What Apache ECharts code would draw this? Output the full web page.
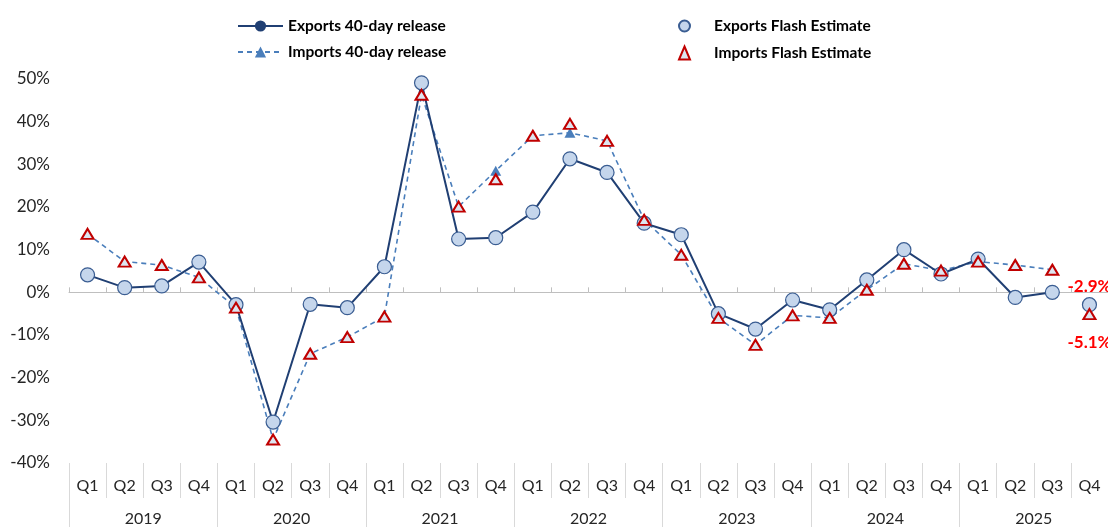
<!DOCTYPE html>
<html>
<head>
<meta charset="utf-8">
<script src="https://cdn.jsdelivr.net/npm/echarts@6/dist/echarts.min.js"></script>
<style>
  html, body { margin: 0; padding: 0; background: #fff; }
  #chart { width: 1108px; height: 527px; }
</style>
</head>
<body>
<div id="chart"></div>
<script>
// quarters on the lower axis, years underneath
const quarters = ['Q1','Q2','Q3','Q4','Q1','Q2','Q3','Q4','Q1','Q2','Q3','Q4','Q1','Q2','Q3','Q4',
                  'Q1','Q2','Q3','Q4','Q1','Q2','Q3','Q4','Q1','Q2','Q3','Q4'];
const years = ['2019','2020','2021','2022','2023','2024','2025'];

// growth rates, %
const exports40 = [4.1, 1.1, 1.5, 7.1, -2.9, -30.4, -2.8, -3.6, 6.0, 49.1, 12.5, 12.8, 18.8, 31.3, 28.1, 16.2,
                   13.5, -5.0, -8.6, -1.8, -4.1, 2.9, 10.0, 4.3, 7.8, -1.2, 0.0, null];
const imports40 = [13.7, 7.2, 6.4, 3.5, -3.6, -34.5, -14.4, -10.5, -5.7, 46.3, 20.1, 28.5, 36.7, 37.4, 35.5, 17.0,
                   8.8, -6.0, -12.3, -5.4, -6.0, 0.6, 6.7, 5.1, 7.2, 6.4, 5.3, null];
const exportsFlash = [4.1, 1.1, 1.5, 7.1, -2.9, -30.4, -2.8, -3.6, 6.0, 49.1, 12.5, 12.8, 18.8, 31.3, 28.1, 16.2,
                      13.5, -5.0, -8.6, -1.8, -4.1, 2.9, 10.0, 4.3, 7.8, -1.2, 0.0, -2.9];
const importsFlash = [13.7, 7.2, 6.4, 3.5, -3.6, -34.5, -14.4, -10.5, -5.7, 46.3, 20.1, 26.5, 36.7, 39.5, 35.5, 17.0,
                      8.8, -6.0, -12.3, -5.4, -6.0, 0.6, 6.7, 5.1, 7.2, 6.4, 5.3, -5.1];

const FONT = 'Lato';
const last = quarters.length - 1;

// only the newest flash value carries a red label
function withLastLabel(arr, position, distance) {
  return arr.map((v, i) => i !== last ? v : {
    value: v,
    label: {
      show: true, position: position, distance: distance,
      formatter: v.toFixed(1) + '%',
      color: '#ff0000', fontWeight: 'bold', fontSize: 17, fontFamily: FONT
    }
  });
}

const chart = echarts.init(document.getElementById('chart'));

const option = {
  animation: false,
  backgroundColor: '#fff',
  textStyle: { fontFamily: FONT },
  legend: [
    {
      data: ['Exports 40-day release', 'Imports 40-day release'],
      orient: 'vertical', left: 232, top: 13, itemGap: 10,
      itemWidth: 45, itemHeight: 14,
      textStyle: { fontSize: 15.5, fontWeight: 'bold', color: '#000', fontFamily: FONT, padding: [0, 0, 0, 0] }
    },
    {
      data: ['Exports Flash Estimate', 'Imports Flash Estimate'],
      orient: 'vertical', left: 673, top: 13, itemGap: 11,
      itemWidth: 11, itemHeight: 13,
      textStyle: { fontSize: 15.5, fontWeight: 'bold', color: '#000', fontFamily: FONT, padding: [0, 0, 0, 19] }
    }
  ],
  grid: { left: 69, right: 0, top: 79, bottom: 63, containLabel: false },
  xAxis: [
    {
      // zero line with small ticks pointing up
      type: 'category', data: quarters, position: 'bottom',
      axisLine: { show: true, onZero: true, lineStyle: { color: '#bfbfbf', width: 1 } },
      axisTick: { show: true, inside: true, length: 5, interval: 0, lineStyle: { color: '#bfbfbf' } },
      axisLabel: { show: false },
      splitLine: { show: false }
    },
    {
      // quarter labels at the bottom
      type: 'category', data: quarters, position: 'bottom',
      axisLine: { show: false, onZero: false },
      axisTick: { show: true, length: 35, interval: 0, lineStyle: { color: '#d9d9d9' } },
      axisLabel: { interval: 0, margin: 15, fontSize: 16, color: '#262626', fontFamily: FONT },
      splitLine: { show: false }
    },
    {
      // year labels
      type: 'category', data: years, position: 'bottom', offset: 35,
      axisLine: { show: false, onZero: false },
      axisTick: { show: true, length: 30, interval: 0, lineStyle: { color: '#d9d9d9' } },
      axisLabel: { interval: 0, margin: 13, fontSize: 16, color: '#262626', fontFamily: FONT },
      splitLine: { show: false }
    }
  ],
  yAxis: {
    type: 'value', min: -40, max: 50, interval: 10,
    axisLine: { show: false },
    axisTick: { show: false },
    splitLine: { show: false },
    axisLabel: { formatter: '{value}%', fontSize: 17, color: '#262626', margin: 19, fontFamily: FONT }
  },
  series: [
    {
      name: 'Exports 40-day release', type: 'line', xAxisIndex: 0,
      data: exports40,
      symbol: 'circle', symbolSize: 8, showAllSymbol: true,
      lineStyle: { color: '#203f73', width: 2 },
      itemStyle: { color: '#203f73' },
      z: 3
    },
    {
      name: 'Imports 40-day release', type: 'line', xAxisIndex: 0,
      data: imports40,
      symbol: 'triangle', symbolSize: [11, 10], showAllSymbol: true,
      lineStyle: { color: '#4a7ebb', width: 1.6, type: [5, 4] },
      itemStyle: { color: '#4a7ebb' },
      z: 2
    },
    {
      name: 'Exports Flash Estimate', type: 'scatter', xAxisIndex: 0,
      data: withLastLabel(exportsFlash, 'top', 2),
      symbol: 'circle', symbolSize: 14,
      itemStyle: { color: '#c5d6ec', borderColor: '#3a5d92', borderWidth: 1.2, opacity: 1 },
      z: 4
    },
    {
      name: 'Imports Flash Estimate', type: 'scatter', xAxisIndex: 0,
      data: withLastLabel(importsFlash, 'bottom', 14),
      symbol: 'triangle', symbolSize: [12, 10],
      itemStyle: { color: '#dde5f0', borderColor: '#c00000', borderWidth: 2, opacity: 1 },
      z: 5
    }
  ]
};

chart.setOption(option);
</script>
</body>
</html>
